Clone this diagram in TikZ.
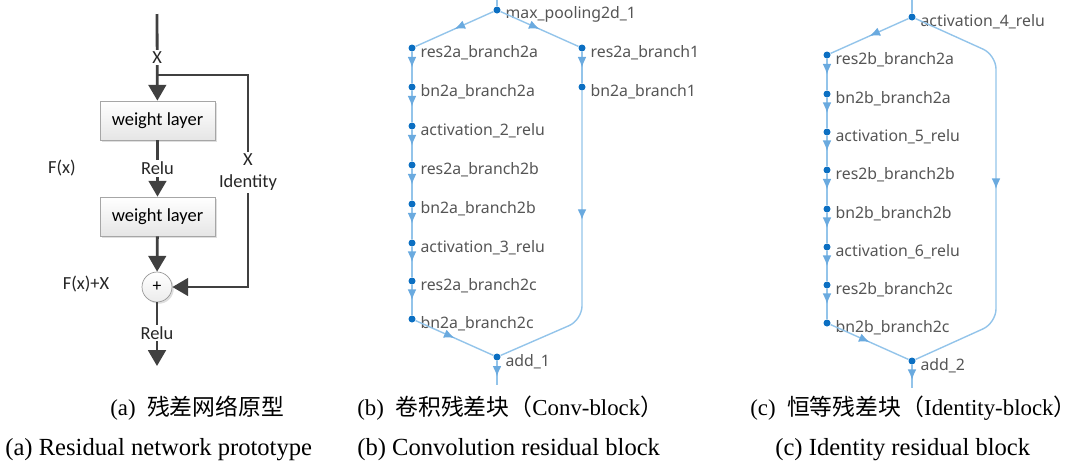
\documentclass[tikz,border=0pt]{standalone}
\usepackage{fontspec}
\setmainfont{Liberation Serif}
\newfontfamily\cjk{Noto Sans CJK SC}
\newfontfamily\calib{Carlito}
\newfontfamily\graphfont{Noto Sans}
\usetikzlibrary{arrows.meta}
\usetikzlibrary{decorations.markings}
\usetikzlibrary{shadows}

\definecolor{ink}{HTML}{404040}
\definecolor{dotblue}{HTML}{0B6FC2}
\definecolor{edgeblue}{HTML}{93C4EA}
\definecolor{tipblue}{HTML}{6AAADF}
\definecolor{lblgray}{HTML}{555555}

\begin{document}
\begin{tikzpicture}[x=0.02cm, y=-0.02cm,
    flow/.style={draw=ink, line width=1.6pt},
    tip/.style={-{Triangle[length=9pt,width=10pt]}},
    tag/.style={fill=white, inner sep=1pt, text=black!85, font=\calib\fontsize{10.5}{12.5}\selectfont},
    layer/.style={draw=gray!70, top color=white, bottom color=gray!20, minimum width=2.3cm,
      minimum height=0.78cm, inner sep=0pt, font=\calib\fontsize{10.5}{12}\selectfont,
      drop shadow={opacity=0.25, shadow xshift=1.2pt, shadow yshift=-1.2pt}},
    sum/.style={circle, draw=gray!80, top color=white, bottom color=gray!15, minimum size=0.6cm,
      inner sep=0pt, font=\calib\fontsize{10}{12}\selectfont,
      drop shadow={opacity=0.25, shadow xshift=1pt, shadow yshift=-1pt}},
    conn/.style={draw=edgeblue, line width=0.8pt},
    midtip/.style={postaction={decorate, decoration={markings,
      mark=at position #1 with {\arrow[tipblue]{Latex[length=6pt,width=5pt]}}}}},
    midtip/.default=0.5,
    lbl/.style={font=\graphfont\fontsize{9}{10}\selectfont, text=lblgray, inner sep=0pt,
      xshift=2.5pt, yshift=-2.5pt},
    op/.style={circle, fill=dotblue, inner sep=0pt, minimum size=0.14cm, label={[lbl]0:#1}},
    captxt/.style={anchor=west, inner sep=0pt, font=\fontsize{13}{15}\selectfont},
    engtxt/.style={anchor=west, inner sep=0pt, font=\fontsize{14}{16}\selectfont}
  ]
  \useasboundingbox (0,0) rectangle (1085,464);

  % (a) plain residual unit
  \coordinate (xin) at (157,14);
  \coordinate (fork) at (157,75);
  \coordinate (idc) at (248,75);
  \coordinate (xout) at (157,366);
  \node[layer] (w1) at (157.5,120.5) {weight layer};
  \node[layer] (w2) at (157.5,216.5) {weight layer};
  \node[sum] (s) at (157,287) {+};
  \draw[flow, tip] (xin) -- node[tag, pos=0.5] {X} (w1);
  \draw[flow, tip] (w1) -- node[tag] {Relu} (w2);
  \draw[flow, tip] (w2) -- (s);
  \draw[flow, tip] (s) -- node[tag, pos=0.48] {Relu} (xout);
  \draw[flow, tip] (fork) -- (idc) |- node[tag, pos=0.23, align=center] {X\\Identity} (s);
  \node[tag] (fx) at (62,168) {F(x)};
  \node[tag] (fxx) at (86,284) {F(x)+X};

  % (b) conv block
  \coordinate (inb) at (497,0);
  \coordinate (outb) at (497,385);
  \node[op=max\_pooling2d\_1] (mp) at (497,10) {};
  \foreach \n/\y/\t in {1/48/res2a\_branch2a, 2/87/bn2a\_branch2a, 3/126/activation\_2\_relu,
      4/165/res2a\_branch2b, 5/204/bn2a\_branch2b, 6/243/activation\_3\_relu,
      7/281/res2a\_branch2c, 8/319/bn2a\_branch2c}
    \node[op=\t] (b\n) at (412,\y) {};
  \node[op=res2a\_branch1] (s1) at (582,48) {};
  \node[op=bn2a\_branch1] (s2) at (582,87) {};
  \node[op=add\_1] (add1) at (497,357) {};
  \path[conn] (inb) edge (mp)
    (mp) edge[midtip] (b1)
    (mp) edge[midtip] (s1)
    (s1) edge[midtip] (s2)
    (b8) edge[midtip] (add1)
    (add1) edge[midtip=0.65] (outb);
  \foreach \a [evaluate=\a as \b using int(\a+1)] in {1,...,7}
    \path[conn] (b\a) edge[midtip] (b\b);
  \draw[conn, midtip=0.41, rounded corners=8pt] (s2) -- (582,320) -- (add1);

  % (c) identity block
  \coordinate (inc) at (912,0);
  \coordinate (outc) at (912,388);
  \node[op=activation\_4\_relu] (a4) at (912,17) {};
  \foreach \n/\y/\t in {1/55/res2b\_branch2a, 2/94/bn2b\_branch2a, 3/132/activation\_5\_relu,
      4/170/res2b\_branch2b, 5/209/bn2b\_branch2b, 6/247/activation\_6\_relu,
      7/285/res2b\_branch2c, 8/323/bn2b\_branch2c}
    \node[op=\t] (c\n) at (827,\y) {};
  \node[op=add\_2] (add2) at (912,361) {};
  \path[conn] (inc) edge (a4)
    (a4) edge[midtip] (c1)
    (c8) edge[midtip] (add2)
    (add2) edge[midtip=0.65] (outc);
  \foreach \a [evaluate=\a as \b using int(\a+1)] in {1,...,7}
    \path[conn] (c\a) edge[midtip] (c\b);
  \draw[conn, midtip=0.5, rounded corners=8pt] (a4) -- (996,55) -- (996,323) -- (add2);

  % captions
  \node[captxt] (ca) at (110,408) {(a)~~{\cjk 残差网络原型}};
  \node[captxt] (cb) at (357,408) {(b)~~{\cjk 卷积残差块（}Conv-block{\cjk ）}};
  \node[captxt] (cc) at (750,408) {(c)~~{\cjk 恒等残差块（}Identity-block{\cjk ）}};
  \node[engtxt] (ea) at (5,450) {(a) Residual network prototype};
  \node[engtxt] (eb) at (357,450) {(b) Convolution residual block};
  \node[engtxt] (ec) at (775,450) {(c) Identity residual block};
\end{tikzpicture}
\end{document}
